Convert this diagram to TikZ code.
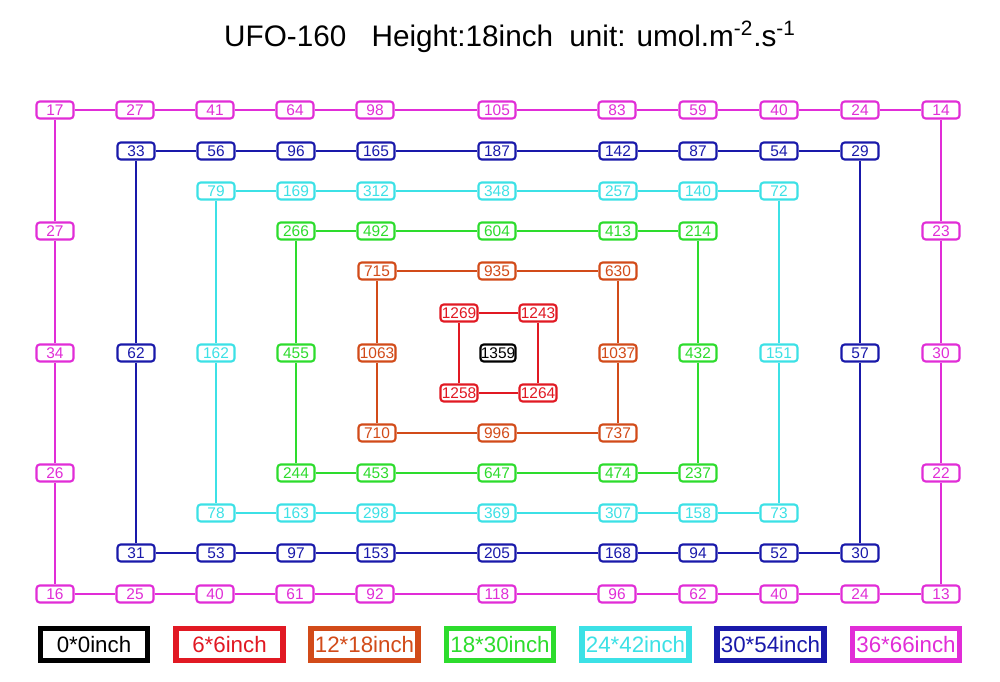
\documentclass[tikz,border=0pt]{standalone}
\usepackage{fontspec}
\setmainfont{Liberation Sans}
\definecolor{cM}{RGB}{225,45,215}
\definecolor{cB}{RGB}{25,25,170}
\definecolor{cC}{RGB}{60,225,230}
\definecolor{cG}{RGB}{45,220,45}
\definecolor{cO}{RGB}{210,75,25}
\definecolor{cR}{RGB}{225,25,35}
\begin{document}
\begin{tikzpicture}[x=0.02cm,y=-0.02cm,
  num/.style={draw=#1, text=#1, fill=white, rounded corners=1.8pt, line width=1.2pt, minimum width=0.74cm, minimum height=0.34cm, inner sep=0pt, font=\fontsize{8.8}{9}\selectfont},
  link/.style={draw=#1, line width=1.2pt},
  leg/.style={draw=#1, text=#1, line width=3pt, minimum width=2.14cm, minimum height=0.64cm, inner sep=0pt, font=\fontsize{12.7}{14}\selectfont}]
\useasboundingbox (0,0) rectangle (1000,682);
\fill[white] (0,0) rectangle (1000,682);

% title
\node[font=\fontsize{16.9}{18}\selectfont] (title) at (510,37) {UFO-160\hspace{0.85em}Height:18inch\hspace{0.55em}unit: umol.m\textsuperscript{-2}.s\textsuperscript{-1}};

% magenta ring
\foreach \x/\l [count=\i] in {55/17,135/27,215/41,295/64,375/98,497/105,617/83,698/59,779/40,860/24,941/14}
  \node[num=cM] (mt\i) at (\x,110) {\l};
\foreach \x/\l [count=\i] in {55/16,135/25,215/40,295/61,375/92,497/118,617/96,698/62,779/40,860/24,941/13}
  \node[num=cM] (mb\i) at (\x,594) {\l};
\foreach \y/\l [count=\i] in {231/27,353/34,473/26}
  \node[num=cM] (ml\i) at (55,\y) {\l};
\foreach \y/\l [count=\i] in {231/23,353/30,473/22}
  \node[num=cM] (mr\i) at (941,\y) {\l};
\foreach \i [remember=\i as \j (initially 1)] in {2,...,11} {
  \draw[link=cM] (mt\j) -- (mt\i);
  \draw[link=cM] (mb\j) -- (mb\i);}
\draw[link=cM] (mt1) -- (ml1) -- (ml2) -- (ml3) -- (mb1);
\draw[link=cM] (mt11) -- (mr1) -- (mr2) -- (mr3) -- (mb11);

% blue ring
\foreach \x/\l [count=\i] in {136/33,216/56,296/96,376/165,497/187,618/142,698/87,779/54,860/29}
  \node[num=cB] (bt\i) at (\x,151) {\l};
\foreach \x/\l [count=\i] in {136/31,216/53,296/97,376/153,497/205,618/168,698/94,779/52,860/30}
  \node[num=cB] (bb\i) at (\x,553) {\l};
\node[num=cB] (bl) at (136,353) {62};
\node[num=cB] (br) at (860,353) {57};
\foreach \i [remember=\i as \j (initially 1)] in {2,...,9} {
  \draw[link=cB] (bt\j) -- (bt\i);
  \draw[link=cB] (bb\j) -- (bb\i);}
\draw[link=cB] (bt1) -- (bl) -- (bb1);
\draw[link=cB] (bt9) -- (br) -- (bb9);

% cyan ring
\foreach \x/\l [count=\i] in {216/79,296/169,376/312,497/348,618/257,698/140,779/72}
  \node[num=cC] (ct\i) at (\x,191) {\l};
\foreach \x/\l [count=\i] in {216/78,296/163,376/298,497/369,618/307,698/158,779/73}
  \node[num=cC] (cb\i) at (\x,513) {\l};
\node[num=cC] (cl) at (216,353) {162};
\node[num=cC] (cr) at (779,353) {151};
\foreach \i [remember=\i as \j (initially 1)] in {2,...,7} {
  \draw[link=cC] (ct\j) -- (ct\i);
  \draw[link=cC] (cb\j) -- (cb\i);}
\draw[link=cC] (ct1) -- (cl) -- (cb1);
\draw[link=cC] (ct7) -- (cr) -- (cb7);

% green ring
\foreach \x/\l [count=\i] in {296/266,376/492,497/604,618/413,698/214}
  \node[num=cG] (gt\i) at (\x,231) {\l};
\foreach \x/\l [count=\i] in {296/244,376/453,497/647,618/474,698/237}
  \node[num=cG] (gb\i) at (\x,473) {\l};
\node[num=cG] (gl) at (296,353) {455};
\node[num=cG] (gr) at (698,353) {432};
\foreach \i [remember=\i as \j (initially 1)] in {2,...,5} {
  \draw[link=cG] (gt\j) -- (gt\i);
  \draw[link=cG] (gb\j) -- (gb\i);}
\draw[link=cG] (gt1) -- (gl) -- (gb1);
\draw[link=cG] (gt5) -- (gr) -- (gb5);

% orange ring
\foreach \x/\l [count=\i] in {377/715,497/935,618/630}
  \node[num=cO] (ot\i) at (\x,271) {\l};
\foreach \x/\l [count=\i] in {377/710,497/996,618/737}
  \node[num=cO] (ob\i) at (\x,433) {\l};
\node[num=cO] (ol) at (377,353) {1063};
\node[num=cO] (or) at (618,353) {1037};
\draw[link=cO] (ot1) -- (ot2) -- (ot3);
\draw[link=cO] (ob1) -- (ob2) -- (ob3);
\draw[link=cO] (ot1) -- (ol) -- (ob1);
\draw[link=cO] (ot3) -- (or) -- (ob3);

% red ring
\node[num=cR] (r1) at (459,313) {1269};
\node[num=cR] (r2) at (538,313) {1243};
\node[num=cR] (r3) at (459,393) {1258};
\node[num=cR] (r4) at (538,393) {1264};
\draw[link=cR] (r1) -- (r2) -- (r4) -- (r3) -- (r1);

% center
\node[num=black, minimum width=0.7cm] (c0) at (498,353) {1359};

% legend
\node[leg=black] (l1) at (94,644.5) {0*0inch};
\node[leg=cR] (l2) at (229.5,644.5) {6*6inch};
\node[leg=cO] (l3) at (364.5,644.5) {12*18inch};
\node[leg=cG] (l4) at (500,644.5) {18*30inch};
\node[leg=cC] (l5) at (635.5,644.5) {24*42inch};
\node[leg=cB] (l6) at (770.5,644.5) {30*54inch};
\node[leg=cM] (l7) at (906,644.5) {36*66inch};
\end{tikzpicture}
\end{document}
